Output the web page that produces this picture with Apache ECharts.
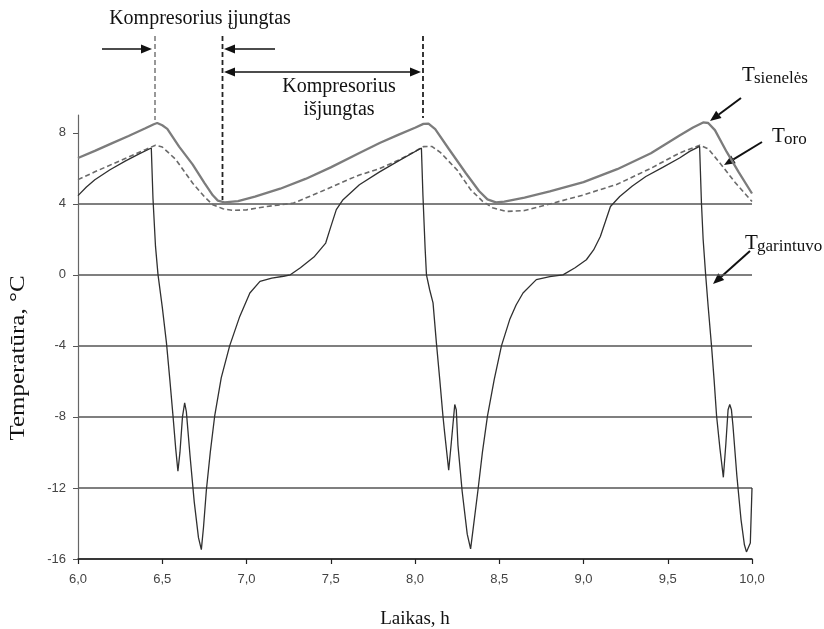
<!DOCTYPE html>
<html>
<head>
<meta charset="utf-8">
<script src="https://cdn.jsdelivr.net/npm/echarts@6/dist/echarts.min.js"></script>
<style>
  html, body { margin: 0; padding: 0; background: #ffffff; }
  #chart { width: 824px; height: 629px; }
</style>
</head>
<body>
<div id="chart"></div>
<script>
// Time axis (hours) and temperature axis (°C)
const xTickValues = [6.0, 6.5, 7.0, 7.5, 8.0, 8.5, 9.0, 9.5, 10.0];
const yTickValues = [-16, -12, -8, -4, 0, 4, 8];

// Wall temperature, T_sienelės: [time h, °C]
const wallTemp = [
  [6.00, 6.58], [6.10, 6.98], [6.20, 7.40], [6.30, 7.82], [6.40, 8.25], [6.45, 8.48],
  [6.47, 8.55], [6.50, 8.42], [6.53, 8.22], [6.60, 7.22], [6.68, 6.22], [6.75, 5.18],
  [6.80, 4.48], [6.83, 4.18], [6.87, 4.08], [6.95, 4.15], [7.05, 4.40], [7.20, 4.85],
  [7.35, 5.40], [7.50, 6.05], [7.67, 6.86], [7.79, 7.42], [7.90, 7.88], [8.00, 8.28],
  [8.05, 8.50], [8.08, 8.52], [8.12, 8.20], [8.20, 7.10], [8.30, 5.75], [8.38, 4.72],
  [8.43, 4.25], [8.48, 4.08], [8.53, 4.12], [8.65, 4.35], [8.80, 4.70], [9.00, 5.22],
  [9.20, 5.95], [9.40, 6.85], [9.57, 7.85], [9.65, 8.30], [9.71, 8.58], [9.74, 8.55],
  [9.78, 8.15], [9.85, 6.92], [9.92, 5.80], [10.00, 4.58]
];

// Air temperature, T_oro
const airTemp = [
  [6.00, 5.36], [6.10, 5.80], [6.20, 6.22], [6.30, 6.63], [6.40, 7.05], [6.46, 7.30],
  [6.50, 7.20], [6.58, 6.50], [6.68, 5.17], [6.75, 4.40], [6.80, 3.95], [6.86, 3.72],
  [6.92, 3.63], [7.00, 3.66], [7.12, 3.85], [7.28, 4.04], [7.45, 4.72], [7.60, 5.35],
  [7.67, 5.62], [7.79, 5.98], [7.90, 6.45], [8.00, 6.95], [8.05, 7.22], [8.10, 7.23],
  [8.15, 6.90], [8.25, 5.90], [8.33, 4.80], [8.40, 4.15], [8.46, 3.78], [8.54, 3.57],
  [8.65, 3.62], [8.82, 4.04], [9.00, 4.50], [9.20, 5.10], [9.40, 6.00], [9.57, 6.86],
  [9.65, 7.15], [9.69, 7.30], [9.74, 7.10], [9.81, 6.29], [9.90, 5.20], [10.00, 4.13]
];

// Evaporator temperature, T_garintuvo
const evapTemp = [
  [6.00, 4.46], [6.05, 4.95], [6.10, 5.35], [6.19, 5.92], [6.28, 6.40], [6.36, 6.80],
  [6.435, 7.14], [6.445, 4.30], [6.46, 1.60], [6.475, 0.00], [6.50, -1.80], [6.525, -3.83],
  [6.545, -5.90], [6.564, -7.96], [6.58, -9.80], [6.593, -11.06], [6.605, -10.00],
  [6.62, -8.00], [6.633, -7.21], [6.643, -7.70], [6.665, -10.20], [6.69, -12.80],
  [6.715, -14.80], [6.732, -15.47], [6.745, -14.20], [6.762, -12.10], [6.785, -10.00],
  [6.811, -7.96], [6.85, -5.80], [6.90, -4.00], [6.96, -2.34], [7.02, -1.02], [7.08, -0.37],
  [7.15, -0.18], [7.22, -0.08], [7.26, 0.00], [7.32, 0.40], [7.40, 1.00], [7.47, 1.79],
  [7.50, 2.70], [7.533, 3.67], [7.573, 4.23], [7.67, 5.07], [7.79, 5.80], [7.90, 6.40],
  [8.038, 7.14], [8.047, 4.50], [8.06, 1.50], [8.068, 0.00], [8.087, -0.84], [8.107, -1.58],
  [8.127, -3.83], [8.147, -5.90], [8.166, -7.96], [8.176, -8.90], [8.20, -11.00],
  [8.215, -9.50], [8.236, -7.30], [8.245, -7.60], [8.255, -9.60], [8.28, -12.20],
  [8.31, -14.60], [8.33, -15.43], [8.345, -14.30], [8.374, -12.10], [8.40, -10.00],
  [8.43, -7.96], [8.47, -5.90], [8.513, -4.00], [8.562, -2.52], [8.60, -1.70], [8.641, -1.02],
  [8.72, -0.27], [8.80, -0.10], [8.878, 0.00], [8.95, 0.40], [9.017, 0.85], [9.06, 1.40],
  [9.10, 2.16], [9.13, 3.00], [9.16, 3.85], [9.215, 4.41], [9.29, 5.00], [9.37, 5.54],
  [9.47, 6.05], [9.57, 6.58], [9.63, 6.95], [9.689, 7.23], [9.70, 4.04], [9.71, 2.00],
  [9.725, 0.00], [9.74, -1.80], [9.76, -4.03], [9.775, -5.90], [9.79, -7.96], [9.81, -9.80],
  [9.83, -11.40], [9.845, -9.50], [9.858, -7.60], [9.868, -7.30], [9.878, -7.60],
  [9.887, -8.50], [9.91, -11.30], [9.935, -13.80], [9.955, -15.20], [9.967, -15.60],
  [9.99, -15.10], [10.00, -12.00]
];

const sansFont = "'Liberation Sans', Arial, sans-serif";
const serifFont = "'Liberation Serif', 'Times New Roman', serif";
const ink = '#111111';

// Arrow helper: a shaft plus a filled triangular head at (x2, y2)
function arrowHead(x1, y1, x2, y2, len, half) {
  const d = Math.hypot(x2 - x1, y2 - y1);
  const ux = (x2 - x1) / d, uy = (y2 - y1) / d;
  const bx = x2 - ux * len, by = y2 - uy * len;
  return {
    base: [bx, by],
    poly: {
      type: 'polygon',
      shape: { points: [[x2, y2], [bx - uy * half, by + ux * half], [bx + uy * half, by - ux * half]] },
      style: { fill: ink }
    }
  };
}
function arrow(x1, y1, x2, y2, len = 11, half = 4.5, width = 1.5) {
  const h = arrowHead(x1, y1, x2, y2, len, half);
  return [
    { type: 'line', shape: { x1: x1, y1: y1, x2: h.base[0], y2: h.base[1] }, style: { stroke: ink, lineWidth: width } },
    h.poly
  ];
}
function doubleArrow(x1, y1, x2, y2, len = 11, half = 4.5, width = 1.5) {
  const a = arrowHead(x2, y2, x1, y1, len, half);
  const b = arrowHead(x1, y1, x2, y2, len, half);
  return [
    { type: 'line', shape: { x1: a.base[0], y1: a.base[1], x2: b.base[0], y2: b.base[1] }, style: { stroke: ink, lineWidth: width } },
    a.poly, b.poly
  ];
}
function dashed(x, y1, y2, color, width) {
  return { type: 'line', shape: { x1: x, y1: y1, x2: x, y2: y2 }, style: { stroke: color, lineWidth: width, lineDash: [5, 3] } };
}
function label(text, x, y, size, align) {
  return {
    type: 'text', x: x, y: y,
    style: { text: text, font: size + 'px ' + serifFont, fill: ink, align: align || 'center', verticalAlign: 'middle' }
  };
}
function subLabel(sub, x, y) {
  return [
    label('T', x, y, 21, 'left'),
    label(sub, x + 12, y + 4, 17, 'left')
  ];
}

const annotations = [].concat(
  [label('Kompresorius įjungtas', 200, 19, 20)],
  [dashed(155, 36, 120, '#777777', 1.5), dashed(222.5, 36, 200, '#222222', 1.8), dashed(423, 36, 118, '#222222', 1.8)],
  arrow(102, 49, 152, 49),
  arrow(275, 49, 224, 49),
  doubleArrow(224, 72, 421, 72),
  [label('Kompresorius', 339, 87, 20), label('išjungtas', 339, 110, 20)],
  subLabel('sienelės', 742, 75),
  arrow(741, 98, 710, 121, 11, 4.5, 2),
  subLabel('oro', 772, 136),
  arrow(762, 142, 724, 165, 11, 4.5, 2),
  subLabel('garintuvo', 745, 243),
  arrow(750, 251, 713, 284, 11, 4.5, 2),
  [label('Laikas, h', 415, 619, 19)],
  [{
    type: 'text', x: 19, y: 358, rotation: Math.PI / 2, scaleX: 1.25,
    style: { text: 'Temperatūra, °C', font: '20px ' + serifFont, fill: ink, align: 'center', verticalAlign: 'middle' }
  }]
);

const chart = echarts.init(document.getElementById('chart'), null, { renderer: 'canvas' });
chart.setOption({
  animation: false,
  backgroundColor: '#ffffff',
  grid: { left: 78, right: 72, top: 115, bottom: 70 },
  xAxis: {
    type: 'value', min: 6, max: 10, interval: 0.5,
    axisLine: { onZero: false, lineStyle: { color: '#222222', width: 1.5 } },
    axisTick: { show: true, length: 5, lineStyle: { color: '#222222', width: 1.2 } },
    axisLabel: {
      customValues: xTickValues,
      formatter: v => v.toFixed(1).replace('.', ','),
      color: '#444444', fontSize: 13, fontFamily: sansFont, margin: 14
    },
    splitLine: { show: false }
  },
  yAxis: {
    type: 'value', min: -16, max: 9, interval: 4,
    axisLine: { show: true, lineStyle: { color: '#666666', width: 1.2 } },
    axisTick: { show: true, length: 5, customValues: yTickValues, lineStyle: { color: '#555555' } },
    axisLabel: {
      customValues: yTickValues,
      color: '#444444', fontSize: 13, fontFamily: sansFont, margin: 12
    },
    splitLine: { show: true, showMaxLine: false, lineStyle: { color: '#555555', width: 1.5 } }
  },
  series: [
    {
      name: 'T sienelės', type: 'line', data: wallTemp, showSymbol: false, smooth: false,
      lineStyle: { color: '#7c7c7c', width: 2.3 }, z: 3
    },
    {
      name: 'T oro', type: 'line', data: airTemp, showSymbol: false, smooth: false,
      lineStyle: { color: '#6a6a6a', width: 1.6, type: [5, 3] }, z: 3
    },
    {
      name: 'T garintuvo', type: 'line', data: evapTemp, showSymbol: false, smooth: false,
      lineStyle: { color: '#303030', width: 1.3 }, z: 4
    }
  ],
  graphic: annotations
});
</script>
</body>
</html>
